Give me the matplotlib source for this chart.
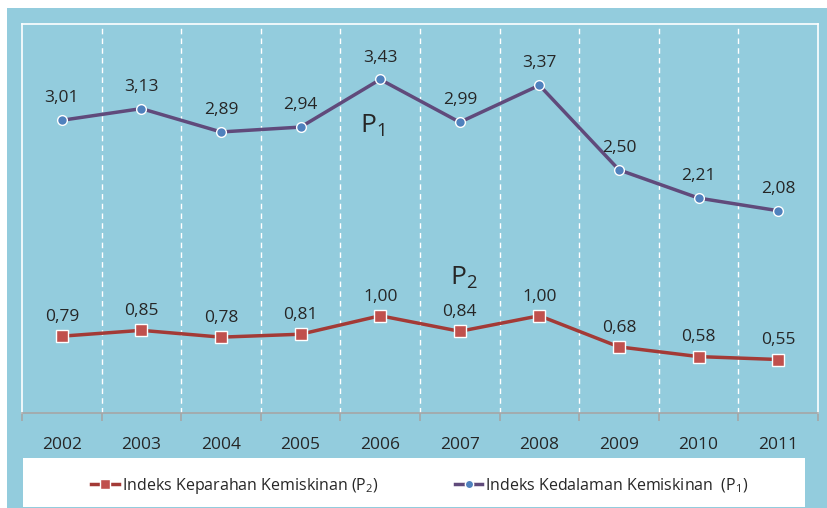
import matplotlib
matplotlib.use("Agg")
import matplotlib.pyplot as plt
from matplotlib.patches import Rectangle
from matplotlib.lines import Line2D
import numpy as np

years = ["2002", "2003", "2004", "2005", "2006", "2007", "2008", "2009", "2010", "2011"]
p1 = [3.01, 3.13, 2.89, 2.94, 3.43, 2.99, 3.37, 2.50, 2.21, 2.08]
p2 = [0.79, 0.85, 0.78, 0.81, 1.00, 0.84, 1.00, 0.68, 0.58, 0.55]
p1_labels = ["3,01", "3,13", "2,89", "2,94", "3,43", "2,99", "3,37", "2,50", "2,21", "2,08"]
p2_labels = ["0,79", "0,85", "0,78", "0,81", "1,00", "0,84", "1,00", "0,68", "0,58", "0,55"]
legend_p2 = "Indeks Keparahan Kemiskinan"
legend_p1 = "Indeks Kedalaman Kemiskinan"

plt.rcParams['font.family'] = ['Open Sans', 'DejaVu Sans']
plt.rcParams['mathtext.default'] = 'regular'

BG = "#93CCDD"
P1_LINE = "#604A7B"
P1_MARK = "#4F81BD"
P2_LINE = "#A33A36"
P2_MARK = "#C0504D"
TXT = "#262626"

W, H = 827, 508
fig = plt.figure(figsize=(W / 100, H / 100), dpi=100)
fig.patch.set_facecolor("white")
fig.add_artist(Rectangle((7 / W, 0), 1 - 7 / W, 1 - 8 / H, transform=fig.transFigure,
                         facecolor=BG, edgecolor="none", zorder=0))
fig.add_artist(Rectangle((23 / W, 1 - 507 / H), (805 - 23) / W, (507 - 458) / H,
                         transform=fig.transFigure, facecolor="white", edgecolor="none", zorder=1))

ax = fig.add_axes([22 / W, 1 - 413 / H, (818 - 22) / W, (413 - 24) / H])
ax.set_facecolor(BG)
x = np.arange(len(years))
ax.set_xlim(-0.5, len(years) - 0.5)
ax.set_ylim(0, 4)

for b in np.arange(0.5, len(years) - 0.5, 1):
    ax.axvline(b, color="white", lw=1, ls=(0, (4, 3)), zorder=1)

for s in ["left", "top", "right"]:
    ax.spines[s].set_color("white")
    ax.spines[s].set_linewidth(1.2)
ax.spines["bottom"].set_color("#A6A6A6")
ax.spines["bottom"].set_linewidth(1.2)

ax.plot(x, p1, color=P1_LINE, lw=2.5, marker="o", ms=7, mfc=P1_MARK, mec="white",
        mew=1, zorder=3)
ax.plot(x, p2, color=P2_LINE, lw=2.5, marker="s", ms=8, mfc=P2_MARK, mec="white",
        mew=1, zorder=3)

for xi, v, t in zip(x, p1, p1_labels):
    ax.annotate(t, (xi, v), xytext=(0, 10), textcoords="offset points", ha="center",
                va="bottom", fontsize=12.5, color=TXT)
for xi, v, t in zip(x, p2, p2_labels):
    ax.annotate(t, (xi, v), xytext=(0, 8), textcoords="offset points", ha="center",
                va="bottom", fontsize=12.5, color=TXT)

ax.text(3.9, 2.95, r"P$_1$", fontsize=19, color=TXT, ha="center", va="center")
ax.text(5.05, 1.39, r"P$_2$", fontsize=19, color=TXT, ha="center", va="center")

ax.set_yticks([])
ax.set_xticks(x)
ax.set_xticklabels(years, fontsize=12.5, color=TXT)
ax.tick_params(axis="x", which="major", length=0, pad=17)
ax.set_xticks(np.arange(-0.5, len(years), 1), minor=True)
ax.tick_params(axis="x", which="minor", length=6, color="#A6A6A6", width=1.2)

h2 = Line2D([], [], color=P2_LINE, lw=2.5, marker="s", ms=7, mfc=P2_MARK, mec="white", mew=1)
h1 = Line2D([], [], color=P1_LINE, lw=2.5, marker="o", ms=6, mfc=P1_MARK, mec="white", mew=1)
leg = fig.legend([h2, h1], [legend_p2 + r" (P$_2$)", legend_p1 + r"  (P$_1$)"],
                 loc="center", bbox_to_anchor=(420 / W, 1 - 486 / H), ncol=2,
                 frameon=False, fontsize=11.5, handlelength=1.7, handletextpad=0.2,
                 columnspacing=4.8)
for t in leg.get_texts():
    t.set_color(TXT)

fig.savefig("out.png", dpi=100, facecolor="white")
